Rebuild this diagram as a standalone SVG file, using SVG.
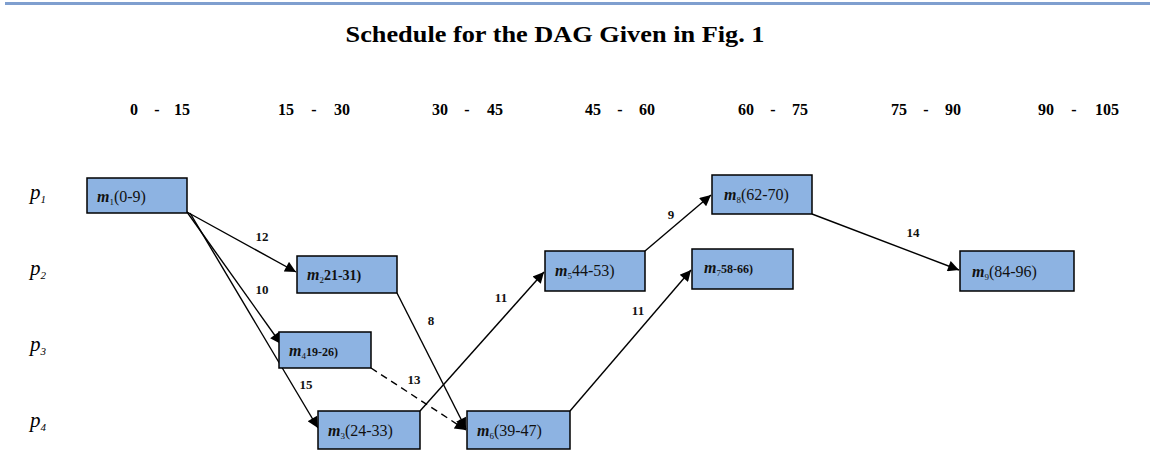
<svg xmlns="http://www.w3.org/2000/svg" width="1150" height="462" viewBox="0 0 1150 462">
<style>
.title{font-family:"Liberation Serif",serif;font-weight:bold;font-size:23px;text-anchor:middle}
.hdr{font-family:"Liberation Serif",serif;font-weight:bold;font-size:16px}
.hdr .a{text-anchor:start}.hdr .d{text-anchor:middle}.hdr .b{text-anchor:end}
.p{font-family:"Liberation Serif",serif;font-style:italic;font-size:21px}
.box{fill:#8db3e2;stroke:#000;stroke-width:1.5}
.lbl{font-family:"Liberation Serif",serif;font-size:16px;fill:#111}
.lbl .m{font-style:italic;font-weight:bold}
.el{font-family:"Liberation Serif",serif;font-weight:bold;font-size:13px;fill:#111;text-anchor:middle}
.c{stroke:#000;stroke-width:1.4;fill:none;marker-end:url(#ah)}
</style>
<defs>
<marker id="ah" viewBox="0 0 10 10" refX="10" refY="5" markerWidth="13" markerHeight="11" markerUnits="userSpaceOnUse" orient="auto"><path d="M0,0L10,5L0,10z" fill="#000"/></marker>
</defs>
<rect x="5" y="2" width="1145" height="3" fill="#7f9fcf"/>
<text class="title" x="555" y="42" textLength="419" lengthAdjust="spacingAndGlyphs">Schedule for the DAG Given in Fig. 1</text>
<g id="headers">
<text class="hdr" y="115"><tspan class="a" x="130">0</tspan><tspan class="d" x="157">-</tspan><tspan class="b" x="190">15</tspan></text>
<text class="hdr" y="115"><tspan class="a" x="278">15</tspan><tspan class="d" x="314">-</tspan><tspan class="b" x="350">30</tspan></text>
<text class="hdr" y="115"><tspan class="a" x="432">30</tspan><tspan class="d" x="467">-</tspan><tspan class="b" x="503">45</tspan></text>
<text class="hdr" y="115"><tspan class="a" x="585">45</tspan><tspan class="d" x="620">-</tspan><tspan class="b" x="655">60</tspan></text>
<text class="hdr" y="115"><tspan class="a" x="738">60</tspan><tspan class="d" x="773">-</tspan><tspan class="b" x="808">75</tspan></text>
<text class="hdr" y="115"><tspan class="a" x="891">75</tspan><tspan class="d" x="926">-</tspan><tspan class="b" x="961">90</tspan></text>
<text class="hdr" y="115"><tspan class="a" x="1038">90</tspan><tspan class="d" x="1074">-</tspan><tspan class="b" x="1119">105</tspan></text>
</g>
<g id="rows">
<text class="p" x="30" y="199">p<tspan font-size="11" dy="4">1</tspan></text>
<text class="p" x="30" y="275">p<tspan font-size="11" dy="4">2</tspan></text>
<text class="p" x="30" y="351">p<tspan font-size="11" dy="4">3</tspan></text>
<text class="p" x="30" y="427">p<tspan font-size="11" dy="4">4</tspan></text>
</g>
<g id="connectors">
<line class="c" x1="187" y1="212" x2="296" y2="272"/>
<line class="c" x1="187" y1="212" x2="281" y2="344"/>
<line class="c" x1="190" y1="213" x2="318" y2="428"/>
<line class="c" x1="397" y1="293" x2="466" y2="429"/>
<line class="c" x1="371" y1="368" x2="466" y2="430" stroke-dasharray="7,5"/>
<line class="c" x1="420" y1="411" x2="544" y2="272"/>
<line class="c" x1="645" y1="251" x2="711" y2="195"/>
<line class="c" x1="570" y1="411" x2="691" y2="270"/>
<line class="c" x1="812" y1="214" x2="959" y2="270"/>
<text class="el" x="262" y="241">12</text>
<text class="el" x="262" y="294">10</text>
<text class="el" x="306" y="389">15</text>
<text class="el" x="431" y="325">8</text>
<text class="el" x="414" y="384">13</text>
<text class="el" x="501" y="302">11</text>
<text class="el" x="671" y="219">9</text>
<text class="el" x="638" y="315">11</text>
<text class="el" x="913" y="237">14</text>
</g>
<g id="m1"><rect class="box" x="87" y="178" width="100" height="35"/><text class="lbl" x="97" y="202"><tspan class="m">m</tspan><tspan font-size="9" dy="3">1</tspan><tspan dy="-3">(0-9)</tspan></text></g>
<g id="m2"><rect class="box" x="297" y="256" width="100" height="37"/><text class="lbl" x="307" y="280"><tspan class="m">m</tspan><tspan font-size="9" dy="3">2</tspan><tspan dy="-3" font-weight="bold" font-size="14">21-31)</tspan></text></g>
<g id="m4"><rect class="box" x="279" y="332" width="92" height="36"/><text class="lbl" x="289" y="356"><tspan class="m">m</tspan><tspan font-size="9" dy="3">4</tspan><tspan dy="-3" font-weight="bold" font-size="12">19-26)</tspan></text></g>
<g id="m3"><rect class="box" x="318" y="411" width="102" height="38"/><text class="lbl" x="328" y="436"><tspan class="m">m</tspan><tspan font-size="9" dy="3">3</tspan><tspan dy="-3">(24-33)</tspan></text></g>
<g id="m6"><rect class="box" x="467" y="411" width="103" height="38"/><text class="lbl" x="477" y="436"><tspan class="m">m</tspan><tspan font-size="9" dy="3">6</tspan><tspan dy="-3">(39-47)</tspan></text></g>
<g id="m5"><rect class="box" x="545" y="251" width="100" height="40"/><text class="lbl" x="555" y="276"><tspan class="m">m</tspan><tspan font-size="9" dy="3">5</tspan><tspan dy="-3">44-53)</tspan></text></g>
<g id="m7"><rect class="box" x="692" y="249" width="101" height="40"/><text class="lbl" x="704" y="273"><tspan class="m">m</tspan><tspan font-size="9" dy="3">7</tspan><tspan dy="-3" font-weight="bold" font-size="12">58-66)</tspan></text></g>
<g id="m8"><rect class="box" x="712" y="175" width="100" height="39"/><text class="lbl" x="724" y="200"><tspan class="m">m</tspan><tspan font-size="9" dy="3">8</tspan><tspan dy="-3">(62-70)</tspan></text></g>
<g id="m9"><rect class="box" x="960" y="251" width="114" height="40"/><text class="lbl" x="972" y="277" font-size="17"><tspan class="m">m</tspan><tspan font-size="9" dy="3">9</tspan><tspan dy="-3">(84-96)</tspan></text></g>
</svg>
